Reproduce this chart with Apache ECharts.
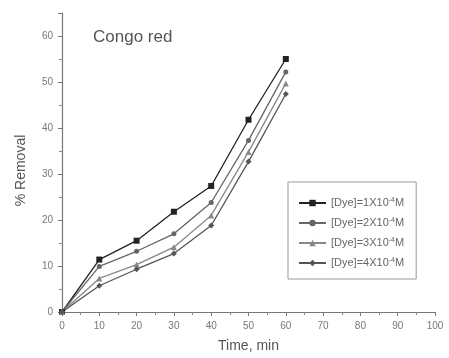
<!DOCTYPE html>
<html><head><meta charset="utf-8">
<script src="https://cdn.jsdelivr.net/npm/echarts@6/dist/echarts.min.js"></script>
<style>html,body{margin:0;padding:0;background:#fff}#c{width:449px;height:358px}</style>
</head><body><div id="c"></div>
<script>
var times = [0, 10, 20, 30, 40, 50, 60];
var dye1 = [0, 11.4, 15.5, 21.8, 27.4, 41.8, 55.0];
var dye2 = [0, 9.9, 13.2, 17.0, 23.8, 37.3, 52.2];
var dye3 = [0, 7.3, 10.3, 14.1, 21.0, 34.8, 49.7];
var dye4 = [0, 5.7, 9.3, 12.7, 18.8, 32.7, 47.4];
var names = ['1', '2', '3', '4'];
var xTicks = [0,10,20,30,40,50,60,70,80,90,100];
var yTicks = [0,10,20,30,40,50,60];

function pairs(v){ return times.map(function(t,i){ return [t, v[i]]; }); }
var font = 'Liberation Sans, Arial, sans-serif';
var chart = echarts.init(document.getElementById('c'));
var styles = [
  {c:'#222', sym:'rect', size:6},
  {c:'#666', sym:'circle', size:5},
  {c:'#888', sym:'triangle', size:6},
  {c:'#555', sym:'diamond', size:6}
];
var data = [dye1, dye2, dye3, dye4];
var series = data.map(function(d, i){
  return {
    name: names[i], type: 'line', data: pairs(d),
    symbol: styles[i].sym, symbolSize: styles[i].size,
    lineStyle: {color: styles[i].c, width: 1.3},
    itemStyle: {color: styles[i].c},
    animation: false
  };
});
chart.setOption({
  backgroundColor: '#fff',
  animation: false,
  grid: {left: 62, right: 14, top: 13, bottom: 45},
  title: {text: 'Congo red', left: 88, top: 24,
    textStyle: {fontFamily: font, fontSize: 17, fontWeight: 'normal', color: '#555'}},
  legend: {
    orient: 'vertical', left: 288, top: 182,
    borderColor: '#999', borderWidth: 1, padding: [15, 12, 9, 10],
    itemGap: 7, itemWidth: 27, itemHeight: 8,
    formatter: function(n){ return '{a|[Dye]=' + n + 'X10}{s|-4}{a|M}'; },
    textStyle: {fontFamily: font, color: '#666', lineHeight: 12,
      rich: {a: {fontSize: 11, color: '#666', fontFamily: font, lineHeight: 12},
             s: {fontSize: 7, color: '#666', verticalAlign: 'top', padding: [0,0,6,0], fontFamily: font, lineHeight: 12}}}
  },
  xAxis: {
    type: 'value', min: 0, max: 100, interval: 10,
    name: 'Time, min', nameLocation: 'middle', nameGap: 27,
    nameTextStyle: {fontFamily: font, fontSize: 14, color: '#555'},
    axisLine: {lineStyle: {color: '#777', width: 1.2}},
    axisTick: {length: 4, lineStyle: {color: '#777'}},
    minorTick: {show: true, splitNumber: 2, length: 3, lineStyle: {color: '#888'}},
    axisLabel: {fontFamily: font, fontSize: 10, color: '#777', margin: 9},
    splitLine: {show: false}
  },
  yAxis: {
    type: 'value', min: 0, max: 65, interval: 10,
    name: '% Removal', nameLocation: 'middle', nameGap: 34,
    nameTextStyle: {fontFamily: font, fontSize: 14, color: '#555', padding: [0, 16, 0, 0]},
    axisLine: {show: true, lineStyle: {color: '#777', width: 1.2}},
    axisTick: {show: true, length: 4, lineStyle: {color: '#777'}},
    minorTick: {show: true, splitNumber: 2, length: 3, lineStyle: {color: '#888'}},
    axisLabel: {fontFamily: font, fontSize: 10, color: '#777', margin: 9,
      formatter: function(v){ return yTicks.indexOf(v) >= 0 ? String(v) : ''; }},
    splitLine: {show: false}
  },
  series: series
});
</script></body></html>
